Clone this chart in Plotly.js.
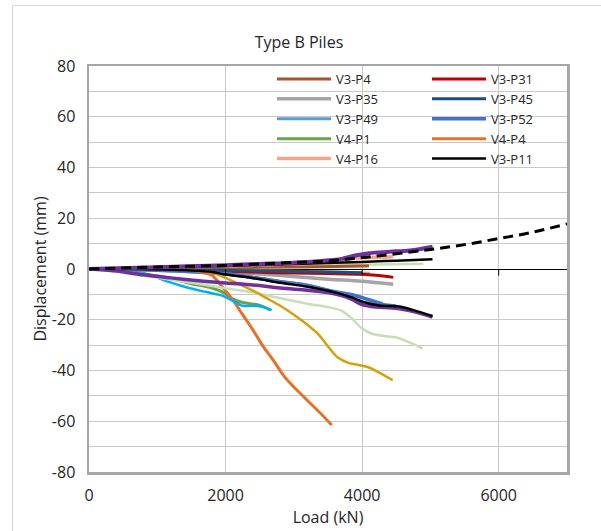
<!DOCTYPE html>
<html>
<head>
<meta charset="utf-8">
<script src="https://cdn.plot.ly/plotly-3.0.1.min.js"></script>
<style>
  html, body { margin: 0; padding: 0; background: #fff; overflow: hidden; }
  #chart { width: 601px; height: 531px; }
  #frame { position: absolute; left: 12px; top: 5px; width: 640px; height: 600px;
           border: 1px solid #d9d9d9; pointer-events: none; }
</style>
</head>
<body>
<div id="chart"></div>
<div id="frame"></div>
<script>
// ---- Data (load in kN, displacement in mm) ----
const chartTitle = "Type B Piles";
const xTitle = "Load (kN)";
const yTitle = "Displacement (mm)";
const xTickVals = [0, 2000, 4000, 6000];
const yTickVals = [-80, -60, -40, -20, 0, 20, 40, 60, 80];

// Legend series
const p4_x  = [0, 1000, 2000, 3000, 4000, 4100];
const p4_y  = [0, 0.2, 0.5, 0.8, 1.2, 1.3];
const p31_x = [0, 1000, 2000, 2500, 3000, 3500, 4000, 4200, 4456];
const p31_y = [0, -0.2, -0.8, -1.3, -1.6, -1.8, -2.1, -2.5, -3.3];
const p35_x = [0, 1000, 2000, 2500, 3000, 3500, 4000, 4456];
const p35_y = [0, -0.3, -1.0, -2.0, -3.0, -4.0, -4.8, -6.0];
const p45_x = [0, 1000, 2000, 3000, 3500, 4000];
const p45_y = [0, -0.2, -0.6, -1.0, -1.2, -1.5];
const p49_x = [0, 1000, 2000, 2400, 2800, 3200, 3600, 3900, 4100, 4300];
const p49_y = [0, -0.5, -2.0, -3.2, -4.9, -6.4, -8.8, -10.4, -12.0, -13.6];
const p52_x = [0, 1000, 2000, 2400, 2800, 3200, 3600, 3900, 4100, 4300, 4500];
const p52_y = [0, -0.5, -2.0, -3.3, -5.0, -6.5, -9.0, -10.5, -12.2, -14.0, -14.6];
const v4p1_x = [0, 300, 600, 900, 1200, 1500, 1800, 2000, 2100, 2250, 2450, 2550, 2660];
const v4p1_y = [0, -0.3, -1.0, -2.3, -3.8, -5.8, -7.5, -9.7, -11.8, -13.2, -14.0, -14.8, -16.2];
const v4p4_x = [0, 500, 1000, 1500, 1700, 1800, 1950, 2100, 2250, 2400, 2550, 2700, 2850, 3000, 3150, 3300, 3450, 3554];
const v4p4_y = [0, 0, -0.1, -0.5, -1.5, -2.5, -7.0, -12.0, -18.0, -24.0, -30.5, -36.0, -42.0, -46.5, -50.5, -54.5, -58.5, -61.5];
const v4p16_x = [0, 1000, 2000, 3000, 3600, 3900, 4200, 4450];
const v4p16_y = [0, 0.5, 1.2, 2.0, 3.0, 4.2, 4.6, 4.8];
const p11_x = [0, 1000, 2000, 3000, 4000, 4500, 5030];
const p11_y = [0, 0.5, 1.2, 2.0, 2.8, 3.3, 3.8];

// Unlabelled series
const dash_x = [0, 1000, 2000, 3000, 3500, 4000, 4500, 5000, 5500, 6000, 6500, 7000];
const dash_y = [0, 0.8, 1.4, 2.6, 3.2, 4.5, 6.0, 7.7, 9.6, 12.0, 14.5, 17.8];
const purpleUp_x = [0, 1000, 2000, 2500, 3000, 3400, 3700, 3900, 4100, 4400, 4700, 5032];
const purpleUp_y = [0, 0.7, 1.5, 2.0, 2.5, 3.2, 4.0, 5.3, 6.2, 6.8, 7.3, 8.8];
const purpleDn_x = [0, 400, 800, 1200, 1600, 2000, 2400, 2800, 3200, 3500, 3700, 3850, 4000, 4200, 4450, 4650, 4850, 5030];
const purpleDn_y = [0, -0.8, -2.3, -3.5, -4.6, -5.5, -6.3, -7.5, -8.4, -9.3, -10.5, -12.0, -14.0, -15.0, -15.4, -16.2, -17.5, -19.0];
const blackDn_x = [0, 500, 1000, 1500, 1800, 2000, 2400, 2800, 3200, 3600, 3850, 4050, 4250, 4550, 4750, 5030];
const blackDn_y = [0, 0, -0.2, -0.6, -1.2, -2.2, -3.6, -5.4, -7.0, -9.2, -11.2, -13.2, -14.4, -14.8, -16.2, -18.5];
const gold_x = [0, 500, 1000, 1500, 1800, 2000, 2200, 2400, 2600, 2800, 3000, 3200, 3350, 3500, 3650, 3800, 3950, 4100, 4250, 4447];
const gold_y = [0, 0, 0, -0.5, -1.5, -3.5, -6.0, -8.5, -11.5, -14.5, -18.0, -22.0, -25.5, -30.5, -35.0, -37.0, -37.8, -38.8, -40.8, -43.8];
const lgreenDn_x = [0, 400, 800, 1200, 1600, 2000, 2400, 2800, 3200, 3500, 3700, 3850, 4000, 4150, 4350, 4500, 4700, 4885];
const lgreenDn_y = [0, -1.0, -2.7, -4.2, -5.8, -7.6, -9.2, -11.5, -13.7, -15.0, -16.5, -19.5, -23.5, -25.5, -26.5, -27.0, -29.0, -31.3];
const lgreenUp_x = [0, 1000, 2000, 3000, 4000, 4896];
const lgreenUp_y = [0, 0.3, 0.9, 1.3, 1.7, 2.1];
const cyan_x = [0, 300, 600, 900, 1100, 1400, 1700, 1950, 2100, 2250, 2400, 2550, 2675];
const cyan_y = [0, -0.3, -1.0, -2.5, -4.5, -7.0, -9.0, -10.5, -12.5, -14.5, -14.5, -15.0, -16.2];
const gray2_x = [0, 2000, 3000, 3500, 4115];
const gray2_y = [0, -0.5, -0.9, -1.1, -1.7];

const FONT = "Open Sans, Noto Sans, sans-serif";
const TXT = "#262626";

function ln(x, y, name, color, width, opts) {
  const t = {
    type: "scatter", mode: "lines", x: x, y: y, name: name,
    line: { color: color, width: width, shape: "spline", smoothing: 1 },
    hoverinfo: "x+y+name"
  };
  return Object.assign(t, opts || {});
}
const hide = { showlegend: false };

const traces = [
  ln(lgreenUp_x, lgreenUp_y, "s-lgu", "#C5E0B4", 2.5, hide),
  ln(gray2_x, gray2_y, "s-g2", "#B0B0B0", 3, hide),
  // legend column 1
  ln(p4_x, p4_y, "V3-P4", "#A65628", 3, { legend: "legend" }),
  ln(p35_x, p35_y, "V3-P35", "#A5A5A5", 3.5, { legend: "legend" }),
  ln(p49_x, p49_y, "V3-P49", "#5B9BD5", 3, { legend: "legend" }),
  ln(v4p1_x, v4p1_y, "V4-P1", "#6AA444", 3, { legend: "legend" }),
  ln(v4p16_x, v4p16_y, "V4-P16", "#F4A582", 3.5, { legend: "legend" }),
  // legend column 2
  ln(p31_x, p31_y, "V3-P31", "#C00000", 3, { legend: "legend2" }),
  ln(p45_x, p45_y, "V3-P45", "#1F4E79", 3, { legend: "legend2" }),
  ln(p52_x, p52_y, "V3-P52", "#4472C4", 3.5, { legend: "legend2" }),
  ln(v4p4_x, v4p4_y, "V4-P4", "#E5722C", 3, { legend: "legend2" }),
  ln(p11_x, p11_y, "V3-P11", "#000000", 2.5, { legend: "legend2" }),
  // other series
  ln(cyan_x, cyan_y, "s-cyan", "#00B0F0", 2.5, hide),
  ln(lgreenDn_x, lgreenDn_y, "s-lgd", "#C5E0B4", 2.5, hide),
  ln(gold_x, gold_y, "s-gold", "#D6A00A", 2.5, hide),
  ln(purpleDn_x, purpleDn_y, "s-pd", "#7030A0", 3.5, hide),
  ln(blackDn_x, blackDn_y, "s-bd", "#000000", 2.5, hide),
  ln(purpleUp_x, purpleUp_y, "s-pu", "#7030A0", 4, hide),
  ln(dash_x, dash_y, "s-dash", "#000000", 3, Object.assign({}, hide, {
    line: { color: "#000000", width: 3, dash: "10px,6px", shape: "spline", smoothing: 1 }
  }))
];

const shapes = xTickVals.filter(v => v > 0).map(v => ({
  type: "line", xref: "x", yref: "y", x0: v, x1: v, y0: 0, y1: -2.6,
  line: { color: "#000000", width: 1 }, layer: "above"
}));

const gridCol = "#c8c8c8";
const frameCol = "#a6a6a6";

const legendCommon = {
  xanchor: "left", yanchor: "top",
  bgcolor: "rgba(0,0,0,0)", borderwidth: 0, itemwidth: 54,
  font: { family: FONT, size: 13, color: TXT }, tracegroupgap: 0
};

const layout = {
  width: 601, height: 531,
  margin: { l: 89, r: 34, t: 66, b: 59 },
  paper_bgcolor: "#ffffff", plot_bgcolor: "#ffffff",
  font: { family: FONT, color: TXT, size: 16 },
  title: {
    text: chartTitle, font: { family: FONT, size: 16, color: TXT },
    xref: "container", yref: "container", x: 0.4975, y: 1 - 42 / 531,
    xanchor: "center", yanchor: "middle"
  },
  xaxis: {
    range: [0, 7000], tickvals: xTickVals, ticktext: xTickVals.map(String),
    showgrid: true, gridcolor: gridCol, gridwidth: 1,
    zeroline: false, showline: true, mirror: true, linecolor: frameCol, linewidth: 2.5,
    ticks: "", ticklabelstandoff: 7,
    tickfont: { family: FONT, size: 16, color: TXT },
    title: { text: xTitle, font: { family: FONT, size: 16, color: TXT }, standoff: 0 },
    fixedrange: true
  },
  yaxis: {
    range: [-80, 80], tickvals: yTickVals, ticktext: yTickVals.map(String),
    showgrid: true, gridcolor: gridCol, gridwidth: 1,
    minor: { dtick: 10, tick0: 0, showgrid: true, gridcolor: gridCol, gridwidth: 1, ticks: "" },
    zeroline: true, zerolinecolor: "#000000", zerolinewidth: 1,
    showline: true, mirror: true, linecolor: frameCol, linewidth: 2.5,
    ticks: "", ticklabelstandoff: 8,
    tickfont: { family: FONT, size: 16, color: TXT },
    title: { text: yTitle, font: { family: FONT, size: 16, color: TXT }, standoff: 1 },
    fixedrange: true
  },
  legend: Object.assign({}, legendCommon, { x: (272 - 89) / 478, y: (472 - 64) / 406 }),
  legend2: Object.assign({}, legendCommon, { x: (427 - 89) / 478, y: (472 - 64) / 406 }),
  shapes: shapes,
  showlegend: true
};

Plotly.newPlot("chart", traces, layout, { displayModeBar: false, staticPlot: true });
</script>
</body>
</html>
